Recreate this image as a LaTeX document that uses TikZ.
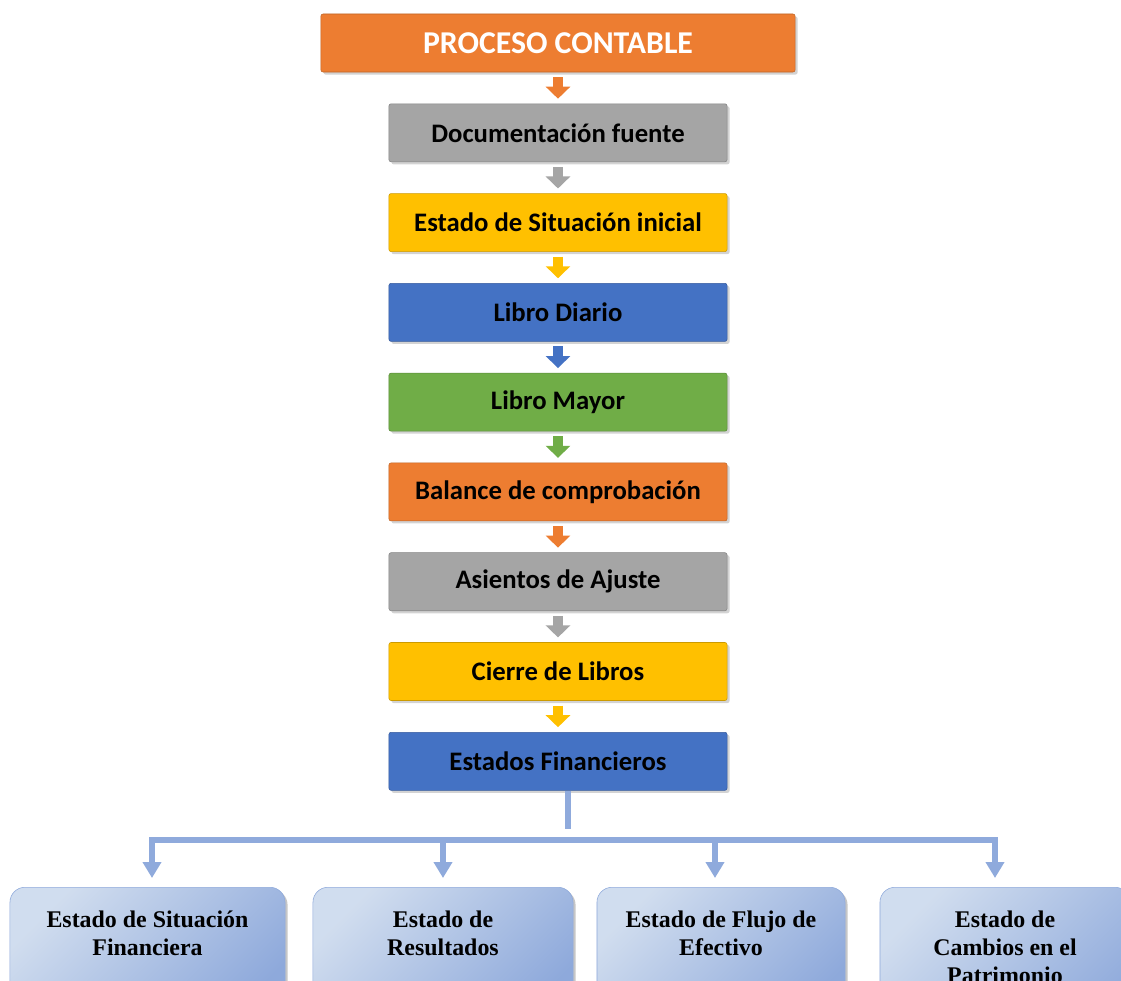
\documentclass[tikz,border=0pt]{standalone}
\usepackage{fontspec}
\setmainfont{Carlito}
\newfontfamily\serifbold{Liberation Serif}
\usetikzlibrary{arrows.meta,positioning,shadows}

\definecolor{naranja}{HTML}{ED7D31}
\definecolor{gris}{HTML}{A5A5A5}
\definecolor{amarillo}{HTML}{FFC000}
\definecolor{azul}{HTML}{4472C4}
\definecolor{verde}{HTML}{70AD47}
\definecolor{enlace}{HTML}{8FAADC}
\definecolor{azulB}{HTML}{8EA9DB}
\definecolor{azulL}{HTML}{DCE6F2}

\newcommand{\tope}{\rule{0pt}{20pt}}
\newcommand{\fondo}{\rule[-40pt]{0pt}{0pt}}

\begin{document}
\begin{tikzpicture}[x=0.025cm,y=-0.025cm,
  node distance=0.78cm,
  paso/.style={draw=#1!80!black, fill=#1, rounded corners=1.5pt,
    minimum width=8.45cm, minimum height=1.45cm,
    font=\bfseries\fontsize{19}{22}\selectfont,
    drop shadow={shadow xshift=1.8pt,shadow yshift=-1.8pt,opacity=0.35}},
  flecha/.style={draw=#1, line width=0.25cm,
    -{Triangle[width=0.6cm,length=0.3cm]},
    shorten <=0.12cm, shorten >=0.12cm},
  enlace/.style={draw=enlace, line width=0.15cm, line join=miter},
  punta/.tip={Triangle[width=0.45cm,length=0.4cm]},
  estado/.style={anchor=north, minimum width=#1, draw=azulB,
    rounded corners=0.375cm,
    left color=azulL!85!azulB, middle color=azulL, right color=azulB,
    shading angle=45, align=center, inner ysep=8.5pt,
    font=\serifbold\bfseries\fontsize{17}{20}\selectfont,
    drop shadow={shadow xshift=1.8pt,shadow yshift=-1.8pt,opacity=0.45}}]
  \useasboundingbox (0,0) rectangle (1121,981);
  \clip (0,0) rectangle (1121,981);
  %main chain
  \node[paso=naranja, minimum width=11.85cm, text=white,
    font=\bfseries\fontsize{22.6}{26}\selectfont] (proceso) at (558,43) {PROCESO CONTABLE};
  \node[paso=gris, below=of proceso] (doc) {Documentación fuente};
  \node[paso=amarillo, below=of doc] (inicial) {Estado de Situación inicial};
  \node[paso=azul, below=of inicial] (diario) {Libro Diario};
  \node[paso=verde, below=of diario] (mayor) {Libro Mayor};
  \node[paso=naranja, below=of mayor] (balance) {Balance de comprobación};
  \node[paso=gris, below=of balance] (ajuste) {Asientos de Ajuste};
  \node[paso=amarillo, below=of ajuste] (cierre) {Cierre de Libros};
  \node[paso=azul, below=of cierre] (ef) {Estados Financieros};
  %arrows between steps
  \foreach \a/\b/\c in {proceso/doc/naranja, doc/inicial/gris, inicial/diario/amarillo,
    diario/mayor/azul, mayor/balance/verde, balance/ajuste/naranja,
    ajuste/cierre/gris, cierre/ef/amarillo}
    \draw[flecha=\c] (\a) -- (\b);
  %financial statements
  \node[estado=6.875cm] (sf) at (147.5,887) {\tope Estado de Situación\\Financiera\fondo};
  \node[estado=6.5cm] (er) at (443,887) {\tope Estado de\\Resultados\fondo};
  \node[estado=6.2cm] (fe) at (721,887) {\tope Estado de Flujo de\\Efectivo\fondo};
  \node[estado=6.25cm] (cp) at (1005,887) {\tope Estado de\\Cambios en el\\Patrimonio\fondo};
  %bus
  \coordinate (b1) at (152,840);
  \coordinate (b2) at (443,840);
  \coordinate (b3) at (715,840);
  \coordinate (b4) at (995,840);
  \draw[enlace] ([xshift=0.25cm]ef.south) -- ++(0,38);
  \draw[enlace, punta-punta, shorten <=0.225cm, shorten >=0.225cm]
    (b1 |- sf.north) -- (b1) -- (b4) -- (b4 |- cp.north);
  \draw[enlace, -punta, shorten >=0.225cm] (b2) -- (b2 |- er.north);
  \draw[enlace, -punta, shorten >=0.225cm] (b3) -- (b3 |- fe.north);
\end{tikzpicture}
\end{document}
